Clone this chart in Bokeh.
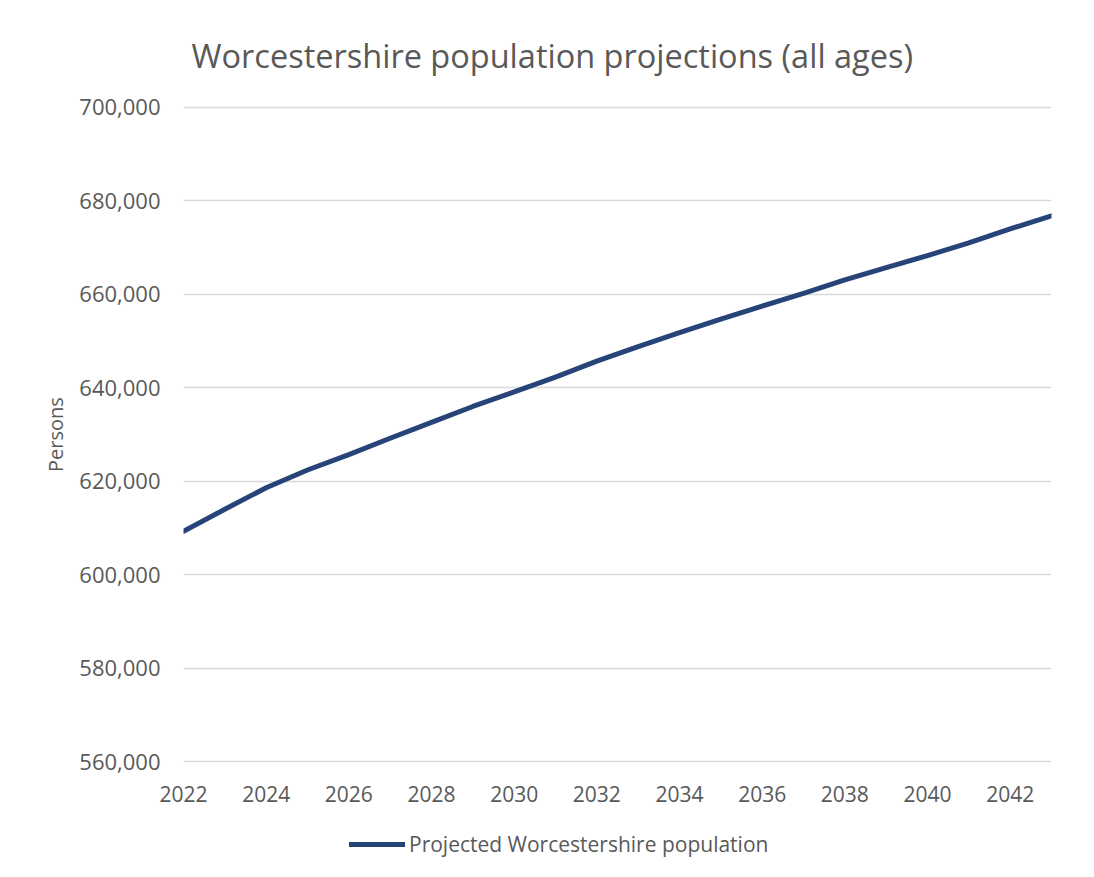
from bokeh.plotting import figure
from bokeh.layouts import column
from bokeh.models import (Range1d, NumeralTickFormatter, FixedTicker, Legend, LegendItem)
from bokeh.embed import file_html
from bokeh.resources import INLINE

years = [2022, 2023, 2024, 2025, 2026, 2027, 2028, 2029, 2030, 2031, 2032,
         2033, 2034, 2035, 2036, 2037, 2038, 2039, 2040, 2041, 2042, 2043]
population = [609300, 614000, 618600, 622400, 625700, 629200, 632600, 636000,
              639100, 642300, 645700, 648800, 651800, 654700, 657500, 660200,
              663100, 665700, 668300, 671000, 674000, 676800]
y_ticks = [560000, 580000, 600000, 620000, 640000, 660000, 680000, 700000]
x_ticks = [2022, 2024, 2026, 2028, 2030, 2032, 2034, 2036, 2038, 2040, 2042]

title_text = "Worcestershire population projections (all ages)"
series_name = "Projected Worcestershire population"
y_label = "Persons"

FONT = "Open Sans"
GREY = "#595959"
LINE = "#264478"

p = figure(frame_width=868, frame_height=656, output_backend="svg", toolbar_location=None,
           x_range=Range1d(2022, 2043), y_range=Range1d(559800, 700200),
           min_border_left=183, min_border_right=43, min_border_top=106,
           min_border_bottom=56, outline_line_color=None,
           background_fill_color="white", border_fill_color="white")

p.title.text = title_text
p.title.text_font = FONT
p.title.text_font_size = "32.5px"
p.title.text_font_style = "normal"
p.title.text_color = GREY
p.title.align = "left"
p.title.offset = 8
p.title.standoff = 57

r = p.line(years, population, line_color=LINE, line_width=5, line_cap="round",
           line_join="round")

p.xaxis.ticker = FixedTicker(ticks=x_ticks)
p.yaxis.ticker = FixedTicker(ticks=y_ticks)
p.yaxis.formatter = NumeralTickFormatter(format="0,0")
for ax in (p.xaxis, p.yaxis):
    ax.axis_line_color = None
    ax.major_tick_line_color = None
    ax.minor_tick_line_color = None
    ax.major_label_text_font = FONT
    ax.major_label_text_color = GREY
p.xaxis.major_label_text_font_size = "21px"
p.yaxis.major_label_text_font_size = "22px"
p.xaxis.major_label_standoff = 17
p.yaxis.major_label_standoff = 17
p.yaxis.axis_label = y_label
p.yaxis.axis_label_text_font = FONT
p.yaxis.axis_label_text_font_size = "20px"
p.yaxis.axis_label_text_font_style = "normal"
p.yaxis.axis_label_text_color = GREY
p.yaxis.axis_label_standoff = 7

p.xgrid.grid_line_color = None
p.ygrid.grid_line_color = "#D9D9D9"
p.ygrid.grid_line_width = 1.5

# legend strip below the chart (its series lies outside this strip's view)
pl = figure(width=1094, height=59, output_backend="svg", toolbar_location=None,
            x_range=Range1d(0, 1), y_range=Range1d(0, 1), min_border=0,
            outline_line_color=None, background_fill_color="white",
            border_fill_color="white")
pl.axis.visible = False
pl.grid.visible = False
rl = pl.line(years, population, line_color=LINE, line_width=5, line_cap="round")

legend = Legend(items=[LegendItem(label=series_name, renderers=[rl])],
                orientation="horizontal", location=(166, 19),
                label_text_font=FONT, label_text_font_size="21px",
                label_text_color=GREY, glyph_width=56, glyph_height=28,
                label_height=28, label_standoff=4, padding=0, margin=0, spacing=0,
                border_line_color=None, background_fill_alpha=0)
pl.add_layout(legend, "center")

layout = column(p, pl, spacing=0)
open("out.html", "w").write(file_html(layout, INLINE))
